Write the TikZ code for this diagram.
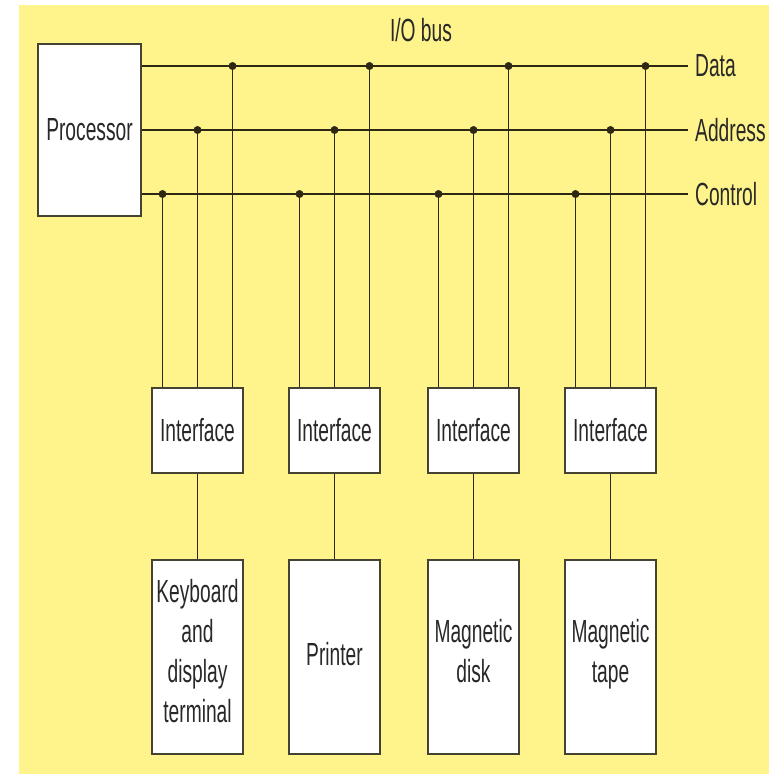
\documentclass[tikz,border=0pt]{standalone}
\usepackage{fontspec}
\setmainfont[FakeStretch=0.6]{Liberation Sans}
\usetikzlibrary{positioning}

\begin{document}
\begin{tikzpicture}
          [x=1pt, y=-1pt,
           box/.style = {draw = boxcolor, line width = 2pt, fill = white, text = txtcolor,
                         font = \fontsize{32}{40}\selectfont, align = center, inner sep = 0pt},
           iface/.style = {box, minimum width = 91pt, minimum height = 85pt},
           device/.style = {box, minimum width = 91pt, minimum height = 194pt},
           wire/.style = {draw = wirecolor, line width = 1.8pt},
           tap/.style = {wire, fill = wirecolor},
           lbl/.style = {text = txtcolor, font = \fontsize{32}{40}\selectfont, inner sep = 0pt}]

% Define colors
\definecolor{bgcolor}{RGB}{255,244,140}
\definecolor{boxcolor}{RGB}{70,66,50}
\definecolor{wirecolor}{RGB}{45,40,20}
\definecolor{txtcolor}{RGB}{40,40,40}

\useasboundingbox (0,0) rectangle (769,774);
\fill [bgcolor] (19,5) rectangle (769,774);

% Processor
  \node [box, minimum width = 103pt, minimum height = 172pt] (cpu) at (89.5,130) {Processor};

% Interfaces
  \node [iface] (if1) at (197.5,430.5) {Interface};
  \node [iface] (if2) at (334.5,430.5) {Interface};
  \node [iface] (if3) at (473.5,430.5) {Interface};
  \node [iface] (if4) at (610.5,430.5) {Interface};

% Devices
  \node [device] (kbd)  at (197.5,657) {Keyboard\\and\\display\\terminal\strut};
  \node [device] (prn)  at (334.5,657) {Printer\strut};
  \node [device] (disk) at (473.5,657) {Magnetic\\disk\strut};
  \node [device] (tape) at (610.5,657) {Magnetic\\tape\strut};

% Bus ends and labels
  \coordinate (dend) at (688,66);
  \coordinate (aend) at (688,130);
  \coordinate (cend) at (688,194);
  \node [lbl, anchor = west] (data) at (695,66)  {Data};
  \node [lbl, anchor = west] (addr) at (695,130) {Address};
  \node [lbl, anchor = west] (ctrl) at (695,194) {Control};
  \node [lbl] (bus) at (421,30) {I/O bus};

% Bus lines
  \path [wire] (cpu.east |- dend) -- (dend);
  \path [wire] (cpu.east |- aend) -- (aend);
  \path [wire] (cpu.east |- cend) -- (cend);

% Taps from the bus down to each interface
  \foreach \i in {1,...,4} {
    \coordinate (c\i) at ([xshift=-35pt]if\i.north);
    \coordinate (d\i) at ([xshift=35pt]if\i.north);
    \path [wire] (c\i |- cend) -- (c\i);
    \path [wire] (if\i.north |- aend) -- (if\i.north);
    \path [wire] (d\i |- dend) -- (d\i);
    \path [tap] (c\i |- cend) circle (3pt);
    \path [tap] (if\i.north |- aend) circle (3pt);
    \path [tap] (d\i |- dend) circle (3pt);
  }

% Interface to device
  \path [wire] (if1) -- (kbd);
  \path [wire] (if2) -- (prn);
  \path [wire] (if3) -- (disk);
  \path [wire] (if4) -- (tape);

\end{tikzpicture}
\end{document}
